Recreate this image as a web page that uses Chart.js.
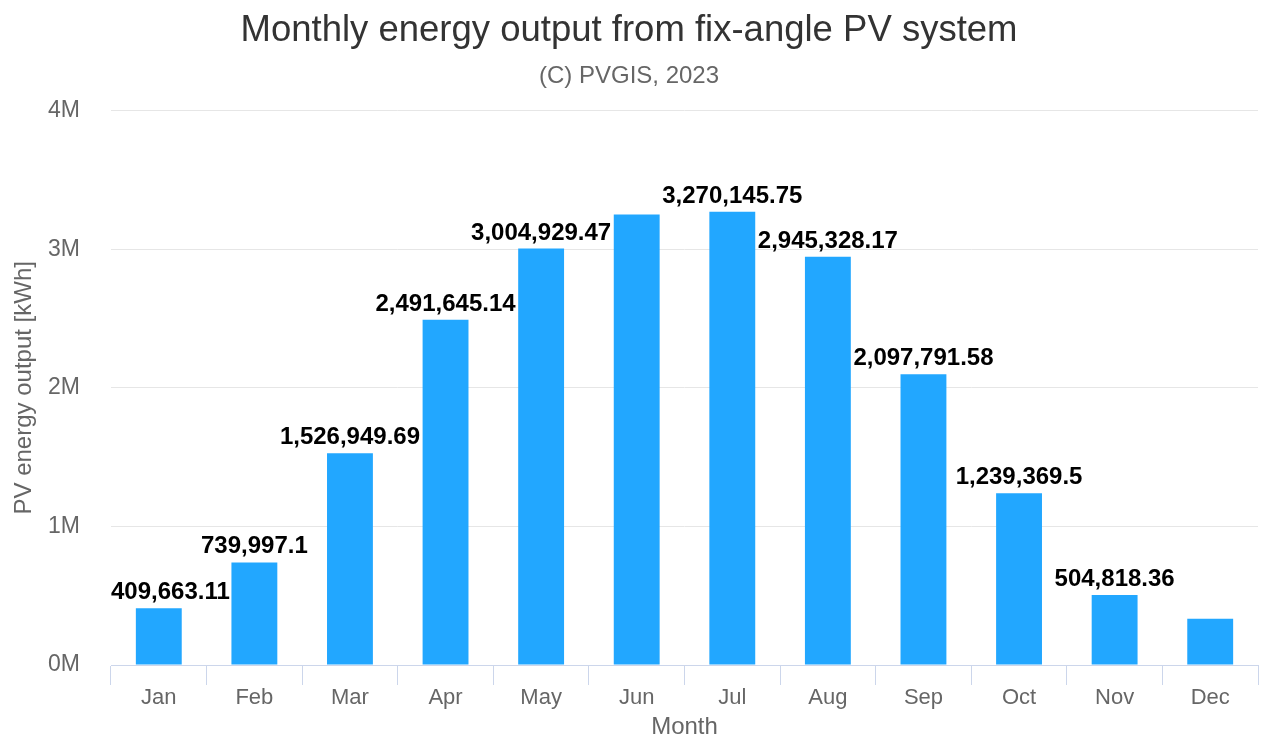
<!DOCTYPE html>
<html>
<head>
<meta charset="utf-8">
<script src="https://cdn.jsdelivr.net/npm/chart.js@4"></script>
<style>
  html, body { margin: 0; padding: 0; background: #ffffff; }
  #wrap { width: 1270px; height: 742px; position: relative; }
</style>
</head>
<body>
<div id="wrap"><canvas id="c" width="1270" height="742"></canvas></div>
<script>
// ---- data ----
const months = ['Jan','Feb','Mar','Apr','May','Jun','Jul','Aug','Sep','Oct','Nov','Dec'];
const energyOutput = [409663.11, 739997.1, 1526949.69, 2491645.14, 3004929.47, 3250000, 3270145.75, 2945328.17, 2097791.58, 1239369.5, 504818.36, 333000];
const yTickValues = [0, 1000000, 2000000, 3000000, 4000000];
const titleText = 'Monthly energy output from fix-angle PV system';
const subtitleText = '(C) PVGIS, 2023';
const yTitle = 'PV energy output [kWh]';
const xTitle = 'Month';

const FONT = "'Liberation Sans', Arial, Helvetica, sans-serif";

function fmt(v) {
  return v.toLocaleString('en-US', { maximumFractionDigits: 2 });
}

// data labels plugin with Highcharts-like overlap hiding
const dataLabels = {
  id: 'dataLabels',
  afterDatasetsDraw(chart) {
    const ctx = chart.ctx;
    const meta = chart.getDatasetMeta(0);
    const data = chart.data.datasets[0].data;
    const area = chart.chartArea;
    ctx.save();
    ctx.font = 'bold 24px ' + FONT;
    const boxes = meta.data.map((bar, i) => {
      const text = fmt(data[i]);
      const w = ctx.measureText(text).width;
      let x = bar.x - w / 2;
      if (x < area.left) x = area.left;
      if (x + w > area.right) x = area.right - w;
      const baseline = bar.y - 9;
      return { i, text, x, w, baseline, top: baseline - 22, bottom: baseline + 6, v: data[i] };
    });
    const order = boxes.slice().sort((a, b) => b.v - a.v);
    const kept = [];
    const pad = 3;
    order.forEach(b => {
      const clash = kept.some(k =>
        b.x - pad < k.x + k.w + pad && b.x + b.w + pad > k.x - pad &&
        b.top - pad < k.bottom + pad && b.bottom + pad > k.top - pad);
      if (!clash) kept.push(b);
    });
    ctx.textAlign = 'left';
    ctx.textBaseline = 'alphabetic';
    ctx.lineJoin = 'round';
    kept.forEach(b => {
      ctx.strokeStyle = 'rgba(255,255,255,0.9)';
      ctx.lineWidth = 2;
      ctx.strokeText(b.text, b.x, b.baseline);
      ctx.fillStyle = '#000000';
      ctx.fillText(b.text, b.x, b.baseline);
    });
    ctx.restore();
  }
};

new Chart(document.getElementById('c'), {
  type: 'bar',
  data: {
    labels: months,
    datasets: [{
      data: energyOutput,
      backgroundColor: '#22a7ff',
      borderWidth: 0,
      categoryPercentage: 1.0,
      barPercentage: 0.48
    }]
  },
  options: {
    responsive: false,
    animation: false,
    devicePixelRatio: 1,
    layout: { padding: { left: 0, right: 12, top: 0, bottom: 0 } },
    plugins: {
      legend: { display: false },
      tooltip: { enabled: false },
      title: {
        display: true,
        text: titleText,
        color: '#333333',
        font: { family: FONT, size: 36.5, weight: 'normal' },
        padding: { top: 9, bottom: 1 }
      },
      subtitle: {
        display: true,
        text: subtitleText,
        color: '#666666',
        font: { family: FONT, size: 24, weight: 'normal' },
        padding: { top: 8, bottom: 20 }
      }
    },
    scales: {
      x: {
        offset: true,
        grid: {
          display: true,
          drawOnChartArea: false,
          drawTicks: true,
          tickLength: 20,
          color: '#ccd6eb',
          lineWidth: 1,
          offset: true
        },
        border: { display: true, color: '#ccd6eb', width: 1 },
        ticks: {
          color: '#666666',
          font: { family: FONT, size: 22 },
          padding: 0,
          maxRotation: 0
        },
        title: {
          display: true,
          text: xTitle,
          color: '#666666',
          font: { family: FONT, size: 24 },
          padding: { top: 0, bottom: 0 }
        },
        afterFit(scale) { scale.height = 77; }
      },
      y: {
        min: 0,
        max: 4000000,
        afterBuildTicks(scale) { scale.ticks = yTickValues.map(v => ({ value: v })); },
        grid: {
          color: '#e6e6e6',
          lineWidth: 1,
          drawTicks: false
        },
        border: { display: false },
        ticks: {
          color: '#666666',
          font: { family: FONT, size: 23 },
          padding: 31,
          callback: v => (v / 1000000) + 'M'
        },
        title: {
          display: true,
          text: yTitle,
          color: '#666666',
          font: { family: FONT, size: 24 },
          padding: { top: 10, bottom: 0 }
        },
        afterFit(scale) { scale.width = 111; }
      }
    }
  },
  plugins: [dataLabels]
});
</script>
</body>
</html>
